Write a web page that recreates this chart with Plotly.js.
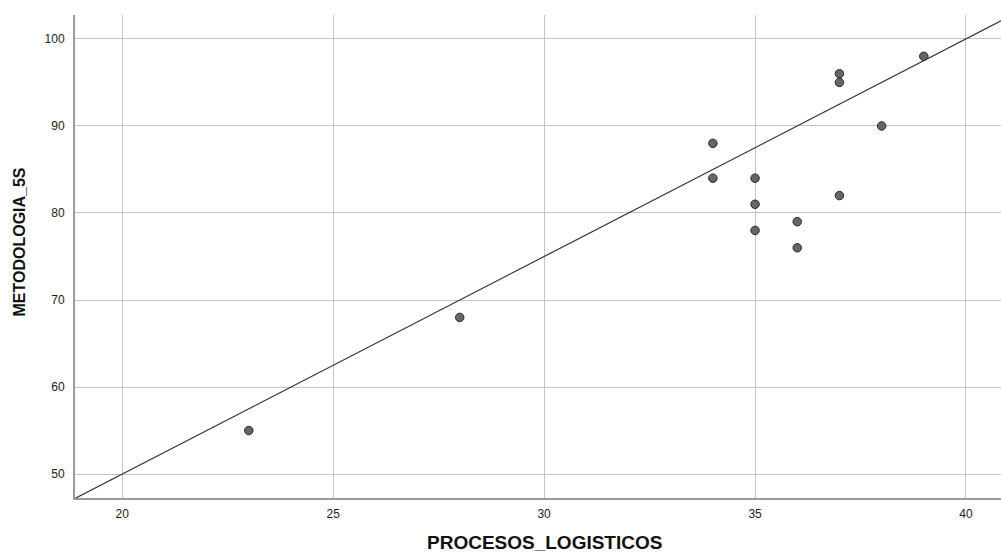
<!DOCTYPE html>
<html>
<head>
<meta charset="utf-8">
<script src="https://cdn.plot.ly/plotly-3.0.1.min.js"></script>
<style>html,body{margin:0;padding:0;background:#fff;}#chart{width:1001px;height:554px;}</style>
</head>
<body>
<div id="chart"></div>
<script>
// Data
const procesosLogisticos = [23, 28, 34, 34, 35, 35, 35, 36, 36, 37, 37, 37, 38, 39];
const metodologia5S     = [55, 68, 88, 84, 84, 81, 78, 79, 76, 96, 95, 82, 90, 98];
// Fit line shown in the reference (y = intercept + slope * x)
const fitIntercept = 0;
const fitSlope = 2.5;
const xTicks = [20, 25, 30, 35, 40];
const yTicks = [50, 60, 70, 80, 90, 100];
const xTitle = 'PROCESOS_LOGISTICOS';
const yTitle = 'METODOLOGIA_5S';

const xRange = [18.88, 40.83];
const yRange = [47.25, 102.75];
const fitX = xRange.slice();
const fitY = fitX.map(x => fitIntercept + fitSlope * x);

const traces = [
  {
    x: fitX, y: fitY, type: 'scatter', mode: 'lines',
    line: {color: '#333333', width: 1.2}, hoverinfo: 'skip'
  },
  {
    x: procesosLogisticos, y: metodologia5S, type: 'scatter', mode: 'markers',
    marker: {size: 8.5, color: '#666666', line: {color: '#2a2a2a', width: 1}}
  }
];

const fam = 'Liberation Sans, Arial, sans-serif';
const axisFont = {family: fam, size: 12, color: '#222'};
const layout = {
  width: 1001, height: 554,
  margin: {l: 75, r: 0, t: 15, b: 56},
  paper_bgcolor: '#ffffff', plot_bgcolor: '#ffffff',
  showlegend: false,
  font: axisFont,
  xaxis: {
    range: xRange, tickvals: xTicks, ticktext: xTicks.map(String),
    showgrid: true, gridcolor: '#c4c4c4', gridwidth: 1,
    zeroline: false, showline: true, linecolor: '#9a9a9a', linewidth: 2,
    ticks: '', tickfont: axisFont, ticklabelstandoff: 4
  },
  yaxis: {
    range: yRange, tickvals: yTicks, ticktext: yTicks.map(String),
    showgrid: true, gridcolor: '#c4c4c4', gridwidth: 1,
    zeroline: false, showline: true, linecolor: '#9a9a9a', linewidth: 2,
    ticks: '', tickfont: axisFont, ticklabelstandoff: 6
  },
  annotations: [
    {
      text: xTitle, xref: 'paper', yref: 'paper', x: 0.5065, y: -0.093,
      xanchor: 'center', yanchor: 'middle', showarrow: false,
      font: {family: fam, size: 19, color: '#111', weight: 'bold'}
    },
    {
      text: yTitle, xref: 'paper', yref: 'paper', x: -0.0594, y: 0.531,
      xanchor: 'center', yanchor: 'middle', showarrow: false, textangle: -90,
      font: {family: fam, size: 16, color: '#111', weight: 'bold'}
    }
  ]
};

Plotly.newPlot('chart', traces, layout, {staticPlot: true, displayModeBar: false});
</script>
</body>
</html>
